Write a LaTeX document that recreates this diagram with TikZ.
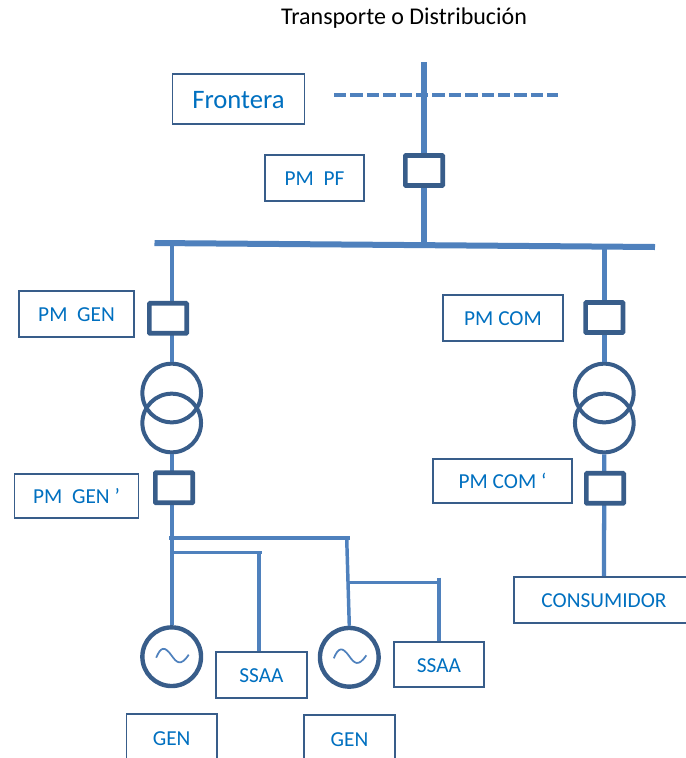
\documentclass[tikz,border=0pt]{standalone}
\usepackage{fontspec}
\setmainfont{Carlito}
\definecolor{linea}{RGB}{79,129,189}
\definecolor{borde}{RGB}{56,93,138}
\definecolor{texto}{RGB}{0,112,192}
\tikzset{
	caja/.style={draw=borde,line width=1.3pt,fill=white,text=texto,font=\fontsize{16}{18}\selectfont,text height=11.8pt,inner sep=0mm},
	medida/.style={draw=borde,line width=3.5pt,rounded corners=0.5pt,fill=white,minimum width=28pt,minimum height=22.5pt,inner sep=0mm},
	circulo/.style={circle,draw=borde,line width=3pt,minimum size=44pt,inner sep=0mm},
	barra/.style={draw=linea,line width=4.5pt},
	ramal/.style={draw=linea,line width=3.2pt},
	onda/.style={draw=linea,line width=1.3pt}}
\begin{document}
\begin{tikzpicture}[x=0.75pt,y=-0.75pt]
	\useasboundingbox (0,0) rectangle (686,758);
	\clip (0,0) rectangle (686,758);
	
	\node[text=black,font=\fontsize{18}{20}\selectfont] (titulo) at (404,18.5) {Transporte o Distribución};
	
	% puntos libres
	\coordinate (pftop) at (424,62);
	\coordinate (bl) at (154.5,243);
	\coordinate (br) at (655,247);
	\coordinate (bpf) at (424,245);
	\coordinate (bgen) at (171.7,243);
	\coordinate (bcom) at (604.3,246);
	\coordinate (fl) at (334,95);
	\coordinate (fr) at (558,95);
	\coordinate (n1) at (169,538);
	\coordinate (n2) at (350,538);
	\coordinate (a1) at (171.7,552.5);
	\coordinate (a2) at (261.5,552.5);
	\coordinate (a3) at (259,552.5);
	\coordinate (c1) at (346.7,538);
	\coordinate (c2) at (348,582.7);
	\coordinate (d1) at (439,582.7);
	\coordinate (d2) at (439,577.7);
	
	% cajas
	\node[caja,font=\fontsize{20}{22}\selectfont,text height=14.4pt,minimum width=99pt,minimum height=38pt] (frontera) at (238.5,99) {Frontera};
	\node[caja,minimum width=74pt,minimum height=34pt] (pmpf) at (314.5,178) {PM\ \ PF};
	\node[caja,minimum width=86pt,minimum height=34pt] (pmgen) at (76.5,314) {PM\ \ GEN};
	\node[caja,minimum width=90pt,minimum height=34pt] (pmcom) at (503,318) {PM COM};
	\node[caja,minimum width=93pt,minimum height=33pt] (pmgenp) at (76.5,496) {PM\ \ GEN ’};
	\node[caja,minimum width=104pt,minimum height=33pt] (pmcomp) at (502.5,481) {PM COM ‘};
	\node[caja,minimum width=135pt,minimum height=35pt] (consumidor) at (604,600) {CONSUMIDOR};
	\node[caja,minimum width=68pt,minimum height=34pt] (ssaa1) at (261.5,675) {SSAA};
	\node[caja,minimum width=67.5pt,minimum height=34pt] (ssaa2) at (439,664.5) {SSAA};
	\node[caja,minimum width=68pt,minimum height=36pt] (gen1) at (171.7,738) {GEN};
	\node[caja,minimum width=68pt,minimum height=36pt] (gen2) at (349.5,739) {GEN};
	
	% transformadores y generadores
	\node[circulo] (t1a) at (171.7,393) {};
	\node[circulo] (t1b) at (171.7,423) {};
	\node[circulo] (t2a) at (604.3,393) {};
	\node[circulo] (t2b) at (604.3,423) {};
	\node[circulo,line width=3.3pt] (g1) at (171.7,656.7) {};
	\node[circulo,line width=3.3pt] (g2) at (349.3,657.3) {};
	
	% lineas
	\draw[barra] (bl) -- (br);
	\draw[ramal,line width=4pt] (pftop) -- (bpf);
	\draw[ramal,line width=2.4pt,dash pattern=on 9.3pt off 3pt] (fl) -- (fr);
	\draw[ramal] (bgen) -- (t1a.north);
	\draw[ramal] (t1b.south) -- (g1.north);
	\draw[ramal,line width=4.2pt] (bcom) -- (t2a.north);
	\draw[ramal] (t2b.south) -- (consumidor.north);
	\draw[ramal] (n1) -- (n2);
	\draw[ramal,line width=2.2pt] (a1) -- (a2);
	\draw[ramal,line width=2.6pt] (a3) -- (a3 |- ssaa1.north);
	\draw[ramal,line width=2.6pt] (c1) -- (g2.north);
	\draw[ramal,line width=2.2pt] (c2) -- (d1);
	\draw[ramal,line width=2.6pt] (d2) -- (ssaa2.north);
	
	% medidas
	\node[medida] (mpf) at (424,170.5) {};
	\node[medida] (mgen) at (168,318.3) {};
	\node[medida] (mcom) at (604.3,317.5) {};
	\node[medida] (mgenp) at (174,487.7) {};
	\node[medida] (mcomp) at (605,488.3) {};
	
	\foreach \g in {g1,g2}
		\draw[onda,shift={(\g.center)}] (-15.5,1) .. controls (-11,-10) and (-7,-11) .. (0,-1) .. controls (5,6) and (9,10) .. (17,-2);
\end{tikzpicture}
\end{document}
